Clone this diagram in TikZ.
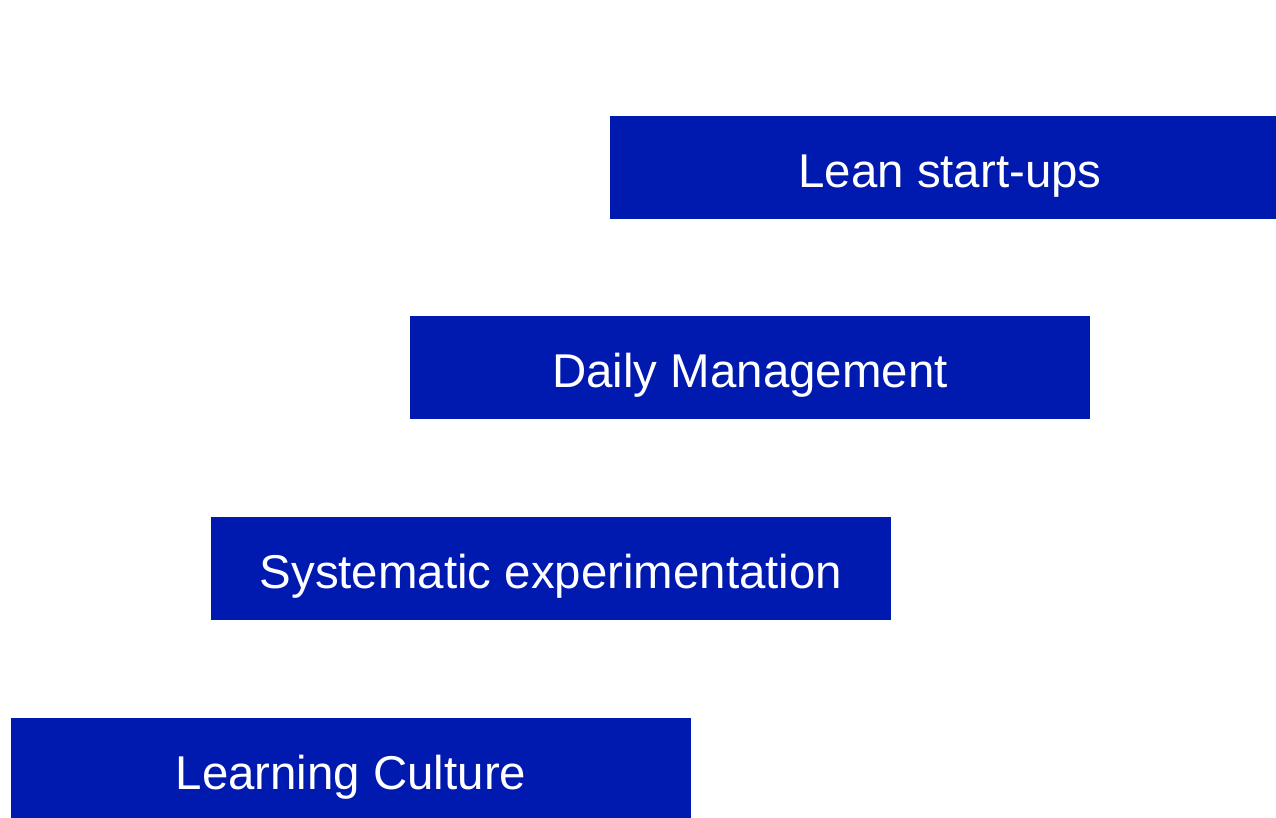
\documentclass[tikz,border=0pt]{standalone}
\usepackage{fontspec}
\setmainfont{Liberation Sans}
\definecolor{leanblue}{RGB}{0,25,175}
\tikzset{stair/.style={fill=leanblue, text=white, minimum width=13.6cm, minimum height=2.06cm, inner sep=0pt, text height=0.81cm, text depth=0pt, font=\fontsize{27}{32}\selectfont}}
\begin{document}
\begin{tikzpicture}[x=0.02cm, y=-0.02cm]
\useasboundingbox (0,0) rectangle (1276,818);
\clip (0,0) rectangle (1276,818);
\node [stair] (lean) at (950,167.5) {Lean start-ups};
\node [stair] (daily) at (750,367.5) {Daily Management};
\node [stair] (exper) at (551,568.5) {Systematic experimentation};
\node [stair] (culture) at (351,769.5) {Learning Culture};
\end{tikzpicture}
\end{document}
